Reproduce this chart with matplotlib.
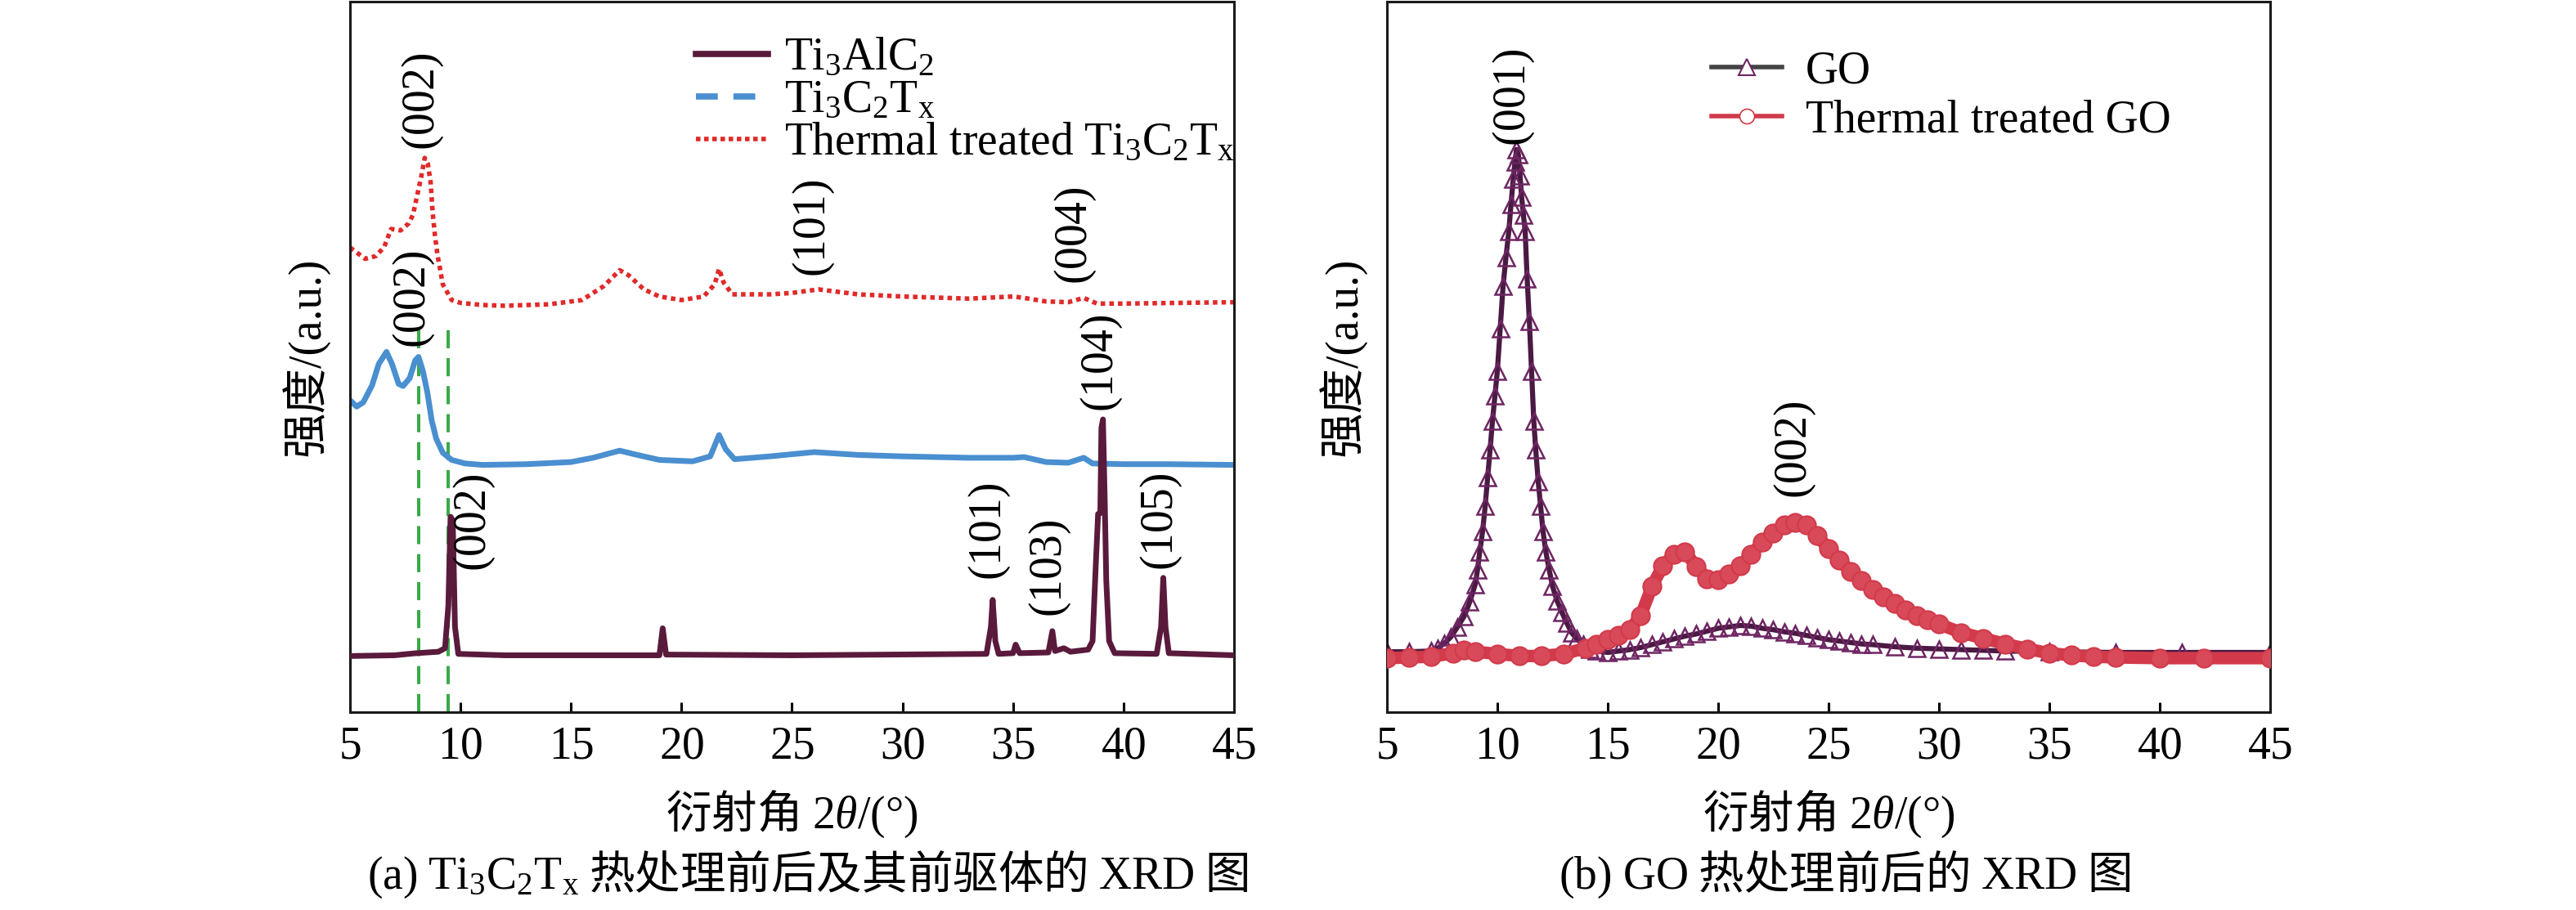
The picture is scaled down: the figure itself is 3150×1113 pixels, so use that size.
import matplotlib
matplotlib.use("Agg")
import matplotlib.pyplot as plt
from matplotlib.lines import Line2D

plt.rcParams["font.family"] = ["Liberation Serif", "Noto Sans CJK SC"]
plt.rcParams["mathtext.fontset"] = "custom"
plt.rcParams["mathtext.rm"] = "Liberation Serif"
plt.rcParams["mathtext.it"] = "Liberation Serif:italic"
plt.rcParams["mathtext.bf"] = "Liberation Serif:bold"
plt.rcParams["mathtext.default"] = "rm"

CJK = "Noto Sans CJK SC"
FS = 40

# ── Panel (a): stacked XRD patterns (normalised, offset intensity) ────────────
alc_x = [5, 7, 8, 9.0, 9.3, 9.45, 9.55, 9.65, 9.75, 9.9, 12, 19.0, 19.15, 19.3,
         25, 33.8, 34.0, 34.08, 34.2, 34.35, 35.0, 35.12, 35.3, 36.6, 36.78, 36.9,
         37.3, 37.6, 38.4, 38.6, 38.75, 38.85, 38.95, 39.0, 39.07, 39.15, 39.22,
         39.35, 39.6, 41.5, 41.7, 41.8, 41.9, 42.05, 45]
alc_y = [0.079, 0.080, 0.083, 0.085, 0.090, 0.150, 0.275, 0.270, 0.120, 0.082,
         0.080, 0.080, 0.118, 0.081, 0.080, 0.082, 0.120, 0.158, 0.100, 0.082,
         0.083, 0.095, 0.083, 0.084, 0.114, 0.086, 0.090, 0.085, 0.088, 0.100,
         0.210, 0.279, 0.280, 0.400, 0.412, 0.300, 0.185, 0.100, 0.083, 0.082,
         0.120, 0.189, 0.120, 0.083, 0.080]

tct_x = [5.0, 5.3, 5.6, 6.0, 6.3, 6.65, 6.9, 7.2, 7.4, 7.7, 7.95, 8.1, 8.3, 8.5,
         8.7, 8.9, 9.2, 9.6, 10.2, 11, 13, 15, 16, 17.2, 18, 19, 20.5, 21.3, 21.7,
         22.0, 22.4, 24, 26, 28, 30, 33, 35, 35.5, 36.5, 37.5, 38.2, 38.6, 40, 42, 45]
tct_y = [0.439, 0.430, 0.436, 0.460, 0.490, 0.507, 0.490, 0.462, 0.459, 0.470,
         0.495, 0.500, 0.480, 0.450, 0.410, 0.385, 0.365, 0.355, 0.350, 0.348,
         0.349, 0.352, 0.358, 0.368, 0.362, 0.355, 0.353, 0.360, 0.390, 0.370,
         0.356, 0.360, 0.366, 0.362, 0.360, 0.358, 0.358, 0.359, 0.352, 0.351,
         0.358, 0.350, 0.349, 0.349, 0.348]

ttc_x = [5.0, 5.69, 6.18, 6.55, 6.86, 7.29, 7.66, 7.85, 8.03, 8.22, 8.38, 8.52,
         8.65, 8.74, 8.84, 8.96, 9.04, 9.2, 9.6, 10, 11, 12, 14, 15.5, 16.5, 17.2,
         17.6, 18.3, 19, 20, 21, 21.5, 21.7, 21.9, 22.3, 24, 25, 26.2, 28, 30, 33,
         35, 35.5, 36.5, 37.5, 38.2, 38.8, 40, 45]
ttc_y = [0.654, 0.638, 0.642, 0.655, 0.680, 0.678, 0.688, 0.700, 0.726, 0.753,
         0.780, 0.772, 0.745, 0.703, 0.672, 0.643, 0.630, 0.602, 0.580, 0.576,
         0.573, 0.572, 0.574, 0.580, 0.600, 0.622, 0.615, 0.595, 0.585, 0.580,
         0.585, 0.602, 0.624, 0.605, 0.588, 0.588, 0.590, 0.595, 0.588, 0.585,
         0.582, 0.585, 0.583, 0.578, 0.577, 0.583, 0.575, 0.575, 0.577]

ref_lines_x = [8.1, 9.45]
ref_lines_top = 0.541

peaks_a = ["(002)", "(002)", "(002)", "(101)", "(004)", "(104)", "(101)", "(103)", "(105)"]
peaks_a_x = [8.3, 7.9, 10.62, 26.0, 37.84, 39.0, 33.96, 36.7, 41.73]
peaks_a_y = [0.790, 0.512, 0.198, 0.612, 0.602, 0.422, 0.185, 0.133, 0.199]

# ── Panel (b): GO before / after thermal treatment ───────────────────────────
go_x = [5, 6, 7.0, 7.3, 7.6, 7.9, 8.2, 8.5, 8.75, 9.0, 9.1, 9.2, 9.33, 9.45, 9.56,
        9.67, 9.78, 9.89, 10.0, 10.13, 10.26, 10.39, 10.52, 10.62, 10.72, 10.8,
        10.87, 10.95, 11.03, 11.1, 11.18, 11.26, 11.35, 11.45, 11.55, 11.65,
        11.74, 11.85, 11.96, 12.07, 12.2, 12.35, 12.5, 12.7, 12.93, 13.15, 13.36,
        13.6, 13.9, 14.2, 14.5, 15, 15.5, 16, 16.5, 17, 17.5, 18, 18.5, 19, 19.5,
        20, 20.5, 21, 21.5, 22, 22.5, 23, 23.5, 24, 24.5, 25, 25.5, 26, 26.5,
        27, 28, 29, 30, 31, 32, 33, 35, 38, 41, 45]
go_y = [0.085, 0.085, 0.086, 0.090, 0.097, 0.106, 0.120, 0.135, 0.155, 0.180,
        0.200, 0.225, 0.254, 0.290, 0.330, 0.369, 0.410, 0.445, 0.480, 0.540,
        0.600, 0.640, 0.677, 0.715, 0.750, 0.775, 0.792, 0.785, 0.755, 0.725,
        0.700, 0.677, 0.610, 0.550, 0.480, 0.410, 0.369, 0.325, 0.290, 0.254,
        0.225, 0.200, 0.177, 0.157, 0.140, 0.125, 0.112, 0.103, 0.095, 0.089,
        0.086, 0.084, 0.086, 0.088, 0.091, 0.095, 0.099, 0.103, 0.107, 0.110,
        0.114, 0.118, 0.120, 0.122, 0.121, 0.118, 0.116, 0.113, 0.111, 0.108,
        0.105, 0.102, 0.100, 0.098, 0.096, 0.095, 0.092, 0.090, 0.089, 0.088,
        0.087, 0.086, 0.085, 0.084, 0.084, 0.084]

tgo_x = [5, 6, 7, 8, 8.5, 9, 10, 11, 12, 13, 14, 14.5, 15, 15.5, 16, 16.5, 17,
         17.5, 18, 18.5, 19, 19.5, 20, 20.5, 21, 21.5, 22, 22.5, 23, 23.5, 24,
         24.5, 25, 25.5, 26, 26.5, 27, 27.5, 28, 28.5, 29, 29.5, 30, 31, 32, 33,
         34, 35, 36, 37, 38, 40, 42, 45]
tgo_y = [0.076, 0.077, 0.078, 0.083, 0.087, 0.085, 0.082, 0.079, 0.079, 0.082,
         0.090, 0.095, 0.102, 0.108, 0.116, 0.136, 0.177, 0.206, 0.222, 0.226,
         0.205, 0.188, 0.186, 0.195, 0.206, 0.222, 0.239, 0.252, 0.263, 0.267,
         0.263, 0.248, 0.230, 0.214, 0.198, 0.185, 0.173, 0.162, 0.153, 0.144,
         0.136, 0.130, 0.124, 0.112, 0.104, 0.096, 0.089, 0.083, 0.080, 0.078,
         0.077, 0.076, 0.076, 0.076]

peaks_b = ["(001)", "(002)"]
peaks_b_x = [10.75, 23.5]
peaks_b_y = [0.796, 0.300]

XTICKS = [5, 10, 15, 20, 25, 30, 35, 40, 45]
C_ALC, C_TCT, C_TTC, C_REF = "#5a1a3c", "#4a8fd0", "#e02a2a", "#3aaa48"
C_GO_LINE, C_GO_MK, C_TGO = "#4a1a42", "#6e2563", "#d23a4a"


def rm(s):
    # render Latin text through mathtext so it is set in the serif face
    return r"$\mathrm{" + s.replace(" ", r"\ ") + "}$"


def style_axes(ax):
    ax.set_xlim(5, 45)
    ax.set_ylim(0, 1)
    ax.set_xticks(XTICKS, labels=[rm(str(t)) for t in XTICKS])
    ax.tick_params(axis="x", direction="in", length=8.6, width=2.2,
                   labelsize=FS, pad=12, top=False)
    ax.tick_params(axis="y", left=False, labelleft=False)
    for sp in ax.spines.values():
        sp.set_linewidth(2.2)
        sp.set_color("#1a1a1a")
    ax.set_xlabel(r"衍射角 $\mathit{2\theta}\mathrm{/(°)}$", fontsize=FS, family=CJK)
    ax.xaxis.set_label_coords(0.5, -0.1438)
    ax.xaxis.label.set_va("center")
    ax.set_ylabel("强度/(a.u.)", fontsize=FS)
    ax.yaxis.set_label_coords(-0.051, 0.5)
    ax.yaxis.label.set_va("center")


fig = plt.figure(figsize=(31.5, 11.13), dpi=100)
ax_a = fig.add_axes([0.13587, 0.21743, 0.34317, 0.78077])
ax_b = fig.add_axes([0.53841, 0.21743, 0.34286, 0.78077])

# (a)
ax_a.vlines(ref_lines_x, 0, ref_lines_top, colors=C_REF, lw=2.9,
            linestyles=(0, (5.5, 3)), zorder=1)
ax_a.plot(alc_x, alc_y, color=C_ALC, lw=5, zorder=3)
ax_a.plot(tct_x, tct_y, color=C_TCT, lw=5, zorder=2)
ax_a.plot(ttc_x, ttc_y, color=C_TTC, lw=4, linestyle=(0, (1, 0.9)), zorder=2)
for lab, x, y in zip(peaks_a, peaks_a_x, peaks_a_y):
    ax_a.text(x, y, rm(lab), rotation=90, ha="center", va="bottom", fontsize=FS)

h_a = [Line2D([], [], color=C_ALC, lw=5.5),
       Line2D([], [], color=C_TCT, lw=5.5, linestyle=(0, (3.5, 2.5))),
       Line2D([], [], color=C_TTC, lw=4, linestyle=(0, (1, 0.8)))]
ax_a.legend(h_a, ["Ti$_3$AlC$_2$", "Ti$_3$C$_2$T$_x$", "Thermal treated Ti$_3$C$_2$T$_x$"],
            loc="upper left", bbox_to_anchor=(0.3915, 0.95), frameon=False,
            fontsize=FS, handlelength=1.58, handletextpad=0.36,
            labelspacing=0.0, borderpad=0, borderaxespad=0)
style_axes(ax_a)
ax_a.text(0.518, -0.229,
          r"$\mathrm{(a)\ Ti_{3}C_{2}T_{x}}$ 热处理前后及其前驱体的 $\mathrm{XRD}$ 图",
          transform=ax_a.transAxes, ha="center", va="center", fontsize=FS, family=CJK)

# (b)
ax_b.plot(go_x, go_y, color=C_GO_LINE, lw=4.5, marker="^", ms=15, mfc="none",
          mec=C_GO_MK, mew=1.8, zorder=2, label="GO")
ax_b.plot(tgo_x, tgo_y, color=C_TGO, lw=11, marker="o", ms=16, mfc="#d84a5a",
          mec=C_TGO, mew=1.5, zorder=3, label="Thermal treated GO")
for lab, x, y in zip(peaks_b, peaks_b_x, peaks_b_y):
    ax_b.text(x, y, rm(lab), rotation=90, ha="center", va="bottom", fontsize=FS)

h_b = [Line2D([], [], color="#444444", lw=4, marker="^", ms=14, mfc="white",
              mec=C_GO_MK, mew=1.5),
       Line2D([], [], color=C_TGO, lw=4, marker="o", ms=13, mfc="white",
              mec=C_TGO, mew=1.2)]
ax_b.legend(h_b, ["GO", "Thermal treated GO"], loc="upper left",
            bbox_to_anchor=(0.368, 0.932), frameon=False, fontsize=FS,
            handlelength=1.54, handletextpad=0.52, labelspacing=0.15,
            borderpad=0, borderaxespad=0)
style_axes(ax_b)
ax_b.text(0.518, -0.229, r"$\mathrm{(b)\ GO}$ 热处理前后的 $\mathrm{XRD}$ 图",
          transform=ax_b.transAxes, ha="center", va="center", fontsize=FS, family=CJK)

fig.savefig("out.png", dpi=100, facecolor="white")
